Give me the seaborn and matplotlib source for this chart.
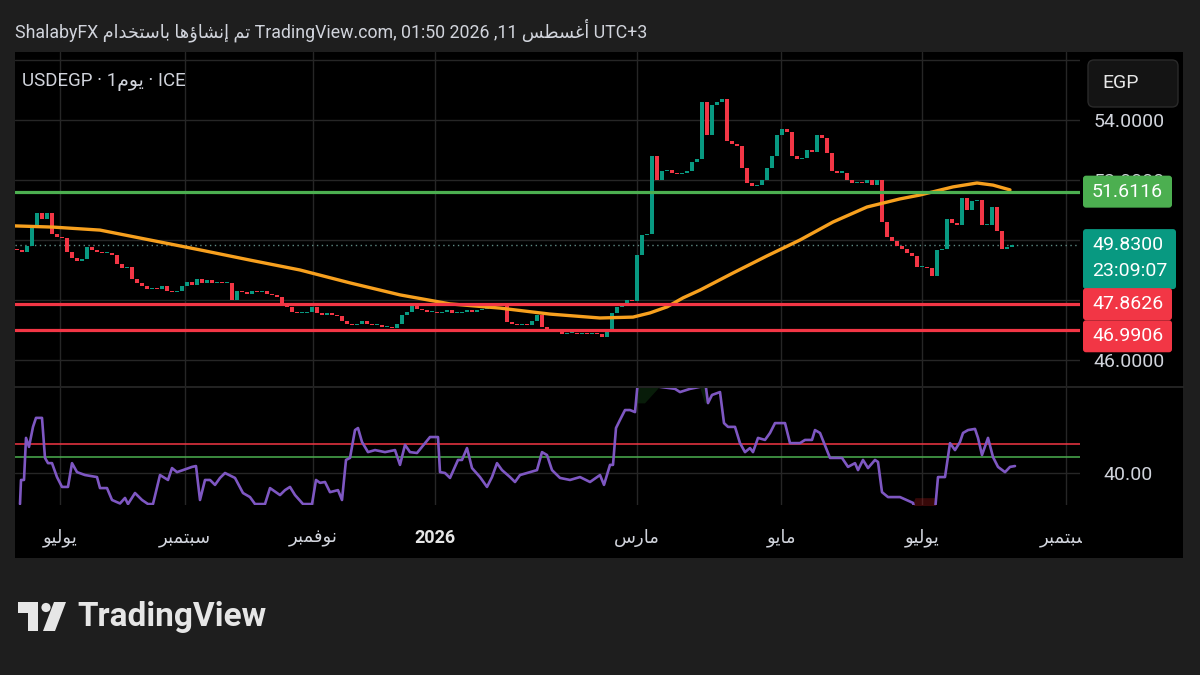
# USDEGP daily chart (TradingView style) - candles, 200 MA, RSI pane
import matplotlib
matplotlib.use('Agg')
import matplotlib.pyplot as plt
from matplotlib.patches import FancyBboxPatch, Rectangle, Polygon, Circle
from matplotlib.lines import Line2D
from matplotlib.transforms import IdentityTransform
import seaborn as sns
import numpy as np

# ---- data ----
open0 = 49.7
closes = [49.67, 49.6, 49.8, 50.5, 50.9, 50.7, 50.9, 50.2, 50.1, 50.05,
          49.6, 49.4, 49.3, 49.35, 49.75, 49.65, 49.6, 49.55, 49.55, 49.5,
          49.2, 49.07, 49.1, 48.7, 48.55, 48.45, 48.35, 48.4, 48.38, 48.45,
          48.3, 48.25, 48.3, 48.45, 48.6, 48.5, 48.7, 48.55, 48.65, 48.55,
          48.6, 48.55, 48.55, 48.0, 48.3, 48.25, 48.2, 48.3, 48.25, 48.3,
          48.2, 48.15, 48.1, 47.85, 47.75, 47.6, 47.55, 47.55, 47.6, 47.75,
          47.55, 47.5, 47.55, 47.5, 47.45, 47.3, 47.2, 47.15, 47.2, 47.3,
          47.2, 47.15, 47.15, 47.1, 47.1, 47.05, 47.2, 47.5, 47.6, 47.85,
          47.7, 47.65, 47.6, 47.6, 47.55, 47.6, 47.65, 47.55, 47.55, 47.6,
          47.65, 47.6, 47.65, 47.7, 47.8, 47.8, 47.82, 47.8, 47.25, 47.2,
          47.15, 47.2, 47.15, 47.3, 47.5, 47.1, 47.0, 46.95, 47.0, 46.85,
          46.9, 46.9, 46.85, 46.9, 46.85, 46.9, 46.85, 46.75, 47.0, 47.55,
          47.75, 47.85, 48.0, 47.95, 49.5, 50.15, 50.2, 52.8, 52.0, 52.3,
          52.35, 52.25, 52.2, 52.25, 52.3, 52.6, 52.7, 54.6, 53.5, 54.5,
          54.6, 54.7, 53.3, 53.2, 53.15, 52.4, 51.9, 51.8, 51.85, 52.0,
          52.4, 52.8, 53.5, 53.7, 53.6, 52.8, 52.7, 52.75, 53.0, 52.95,
          53.5, 53.4, 52.9, 52.3, 52.25, 52.25, 52.0, 51.9, 51.95, 51.9,
          52.0, 51.85, 52.0, 50.6, 50.1, 49.95, 49.8, 49.7, 49.55, 49.45,
          49.1, 49.1, 49.05, 48.8, 49.65, 49.7, 50.7, 50.55, 50.5, 51.4,
          51.0, 51.3, 51.35, 50.5, 50.5, 51.1, 50.3, 49.7, 49.75, 49.83]

ma_bar = [-0.4, 7.2, 16.6, 26.6, 36.6, 46.6, 56.6, 66.6, 76.6, 86.6, 96.6,
          106.6, 116.6, 123.2, 126.6, 130.0, 133.2, 136.6, 143.2, 150.0,
          156.6, 163.2, 170.0, 176.6, 180.6, 187.2, 192.0, 195.2, 198.6]
ma_val = [50.47, 50.43, 50.33, 50.0, 49.67, 49.33, 49.0, 48.57, 48.17, 47.87,
          47.73, 47.53, 47.4, 47.43, 47.57, 47.77, 48.07, 48.33, 48.9, 49.47,
          50.0, 50.6, 51.1, 51.37, 51.5, 51.77, 51.9, 51.83, 51.67]

rsi_bar = [0.6, 0.8, 1.4, 1.8, 2.4, 3.2, 3.8, 5.0, 5.6, 6.2, 7.0, 8.0, 9.0,
           10.2, 11.0, 12.0, 13.6, 16.0, 16.6, 18.0, 19.0, 20.6, 21.6, 22.2,
           23.6, 25.0, 26.2, 27.2, 28.6, 30.2, 31.0, 32.0, 33.2, 35.0, 35.8,
           36.6, 37.6, 38.6, 39.6, 40.6, 41.6, 43.6, 45.2, 46.6, 47.6, 49.6,
           50.6, 52.6, 53.6, 54.6, 55.6, 57.2, 59.0, 59.8, 60.6, 61.6, 62.6,
           64.2, 65.0, 65.8, 66.6, 67.6, 68.2, 69.0, 70.2, 71.6, 73.6, 75.6,
           76.6, 77.6, 78.6, 80.0, 81.6, 82.6, 84.2, 84.6, 85.6, 86.6, 88.2,
           89.0, 90.0, 91.0, 92.6, 94.0, 95.0, 96.0, 97.0, 98.6, 99.6, 100.6,
           102.6, 104.0, 105.0, 106.0, 107.0, 108.6, 110.6, 112.6, 114.6,
           116.6, 117.4, 118.6, 119.2, 119.8, 120.6, 121.6, 122.6, 123.6,
           124.2, 125.6, 128.6, 131.6, 132.6, 134.6, 136.6, 137.6, 138.2,
           139.0, 140.6, 141.4, 142.2, 143.6, 144.6, 145.6, 146.6, 147.2,
           148.2, 149.6, 150.6, 151.6, 153.6, 154.6, 156.6, 157.6, 159.0,
           159.6, 160.6, 162.6, 165.0, 166.2, 167.6, 168.2, 169.2, 170.2,
           171.6, 172.2, 173.0, 174.2, 176.6, 179.2, 179.6, 183.6, 184.2,
           185.6, 186.6, 187.6, 188.6, 189.2, 190.2, 191.6, 192.2, 193.0,
           194.2, 195.2, 196.2, 197.6, 198.6, 199.6]
rsi_val = [29.3, 37.6, 37.6, 52.1, 49.0, 55.9, 59.0, 59.0, 45.2, 43.4, 43.4,
           38.6, 35.2, 35.2, 43.4, 40.3, 39.3, 38.6, 34.8, 34.8, 30.7, 29.5,
           31.4, 29.3, 33.1, 30.7, 29.3, 29.3, 39.3, 37.6, 41.7, 40.3, 41.0,
           42.1, 42.4, 30.7, 37.6, 37.6, 35.9, 38.3, 40.0, 38.3, 33.1, 31.7,
           29.3, 29.3, 34.8, 32.4, 34.1, 35.2, 32.4, 29.3, 29.3, 37.6, 36.6,
           36.9, 33.4, 34.1, 30.7, 44.5, 45.2, 54.8, 55.5, 50.7, 47.2, 47.9,
           47.2, 47.9, 42.8, 49.7, 47.2, 46.9, 50.3, 52.4, 52.4, 40.3, 40.0,
           38.3, 44.5, 44.5, 48.6, 41.7, 38.6, 35.2, 38.6, 43.4, 41.0, 38.6,
           36.9, 39.3, 40.3, 41.0, 47.2, 46.2, 41.0, 38.3, 37.6, 38.6, 36.9,
           39.3, 35.9, 42.8, 42.8, 55.5, 58.3, 61.7, 61.7, 61.0, 72.0, 70.5,
           69.7, 69.0, 67.9, 69.0, 69.7, 72.0, 64.1, 66.9, 67.9, 57.2, 55.9,
           55.9, 50.3, 47.2, 48.6, 47.2, 52.1, 51.4, 53.8, 57.2, 57.2, 50.3,
           50.3, 51.4, 51.4, 54.8, 53.8, 45.2, 45.2, 42.1, 43.4, 41.0, 44.5,
           41.7, 44.5, 43.8, 33.4, 31.7, 31.7, 29.7, 27.0, 27.0, 38.6, 38.6,
           50.3, 47.9, 50.7, 53.8, 54.8, 55.2, 52.1, 46.2, 52.1, 45.5, 42.1,
           40.3, 42.1, 42.4]

resistance = 51.6116
supports = [47.8626, 46.9906]
countdown = '23:09:07'
rsi_upper, rsi_mid = 50.0, 45.5

grid_ticks = [46, 48, 50, 52, 54, 56]
label_ticks = [46, 52, 54]          # the others sit under the price tags / currency button
month_pos = [8.6, 33.6, 59.2, 83.6, 124.0, 152.8, 181.0, 209.8]
month_lbl = ['يوليو', 'سبتمبر', 'نوفمبر', '2026', 'مارس', 'مايو', 'يوليو', 'سبتمبر']

# ---- tiny Arabic shaper (matplotlib has no complex text layout) ----
AR_FORMS = {'ا': (0xFE8D, 2), 'أ': (0xFE83, 2), 'إ': (0xFE87, 2), 'ؤ': (0xFE85, 2),
            'ب': (0xFE8F, 4), 'ت': (0xFE95, 4), 'خ': (0xFEA5, 4), 'د': (0xFEA9, 2),
            'ر': (0xFEAD, 2), 'س': (0xFEB1, 4), 'ش': (0xFEB5, 4), 'ط': (0xFEC1, 4),
            'غ': (0xFECD, 4), 'ف': (0xFED1, 4), 'ل': (0xFEDD, 4), 'م': (0xFEE1, 4),
            'ن': (0xFEE5, 4), 'ه': (0xFEE9, 4), 'و': (0xFEED, 2), 'ي': (0xFEF1, 4)}


def ar(txt):
    if not any(ch in AR_FORMS for ch in txt):
        return txt
    out = []
    for k, ch in enumerate(txt):
        if ch not in AR_FORMS:
            out.append(ch)
            continue
        base, n = AR_FORMS[ch]
        prev = txt[k - 1] if k > 0 else ''
        nxt = txt[k + 1] if k + 1 < len(txt) else ''
        jp = prev in AR_FORMS and AR_FORMS[prev][1] == 4
        jn = n == 4 and nxt in AR_FORMS
        f = 3 if (jp and jn) else 1 if jp else 2 if jn else 0
        out.append(chr(base + f))
    return ''.join(out[::-1])


sns.set_theme(style='dark', rc={'axes.facecolor': 'black', 'figure.facecolor': '#1e1e1e'})
plt.rcParams['font.family'] = ['Roboto', 'DejaVu Sans']

W, H = 1200, 675
fx = lambda px: px / W
fy = lambda py: 1 - py / H
TXT = '#d1d4dc'
GRID = '#262626'

fig = plt.figure(figsize=(12, 6.75), dpi=100)
fig.add_artist(Rectangle((fx(15), fy(558)), fx(1183) - fx(15), fy(52) - fy(558),
                         transform=fig.transFigure, fc='black', ec='none', zorder=-1))

ax = fig.add_axes([fx(15), fy(386), fx(1080) - fx(15), fy(52) - fy(386)])
axr = fig.add_axes([fx(15), fy(505), fx(1080) - fx(15), fy(388) - fy(505)])

# ---- price pane ----
x = np.arange(len(closes))
c = np.array(closes)
o = np.r_[open0, c[:-1]]
up = c >= o
body = np.maximum(np.abs(c - o), 0.035)
ax.bar(x, body, bottom=np.minimum(o, c), width=0.62,
       color=np.where(up, '#089981', '#f23645'), linewidth=0, zorder=3)
sns.lineplot(x=ma_bar, y=ma_val, ax=ax, color='#f7a01e', lw=2.4, zorder=4, legend=False)

ax.axhline(resistance, color='#4caf50', lw=2.3, zorder=5)
for s in supports:
    ax.axhline(s, color='#f23645', lw=2.3, zorder=5)
ax.axhline(closes[-1], color='#5f8a84', lw=1, ls=(0, (1, 2.5)), zorder=2)

ax.set_xlim(-0.4, 212.6)
ax.set_ylim(45.133, 56.267)
ax.set_yticks(grid_ticks)
ax.set_yticklabels([f'{t:.4f}' if t in label_ticks else '' for t in grid_ticks])
ax.yaxis.tick_right()
ax.set_xticks(month_pos)
ax.tick_params(axis='y', length=0, pad=10, labelcolor=TXT, labelsize=14)
ax.tick_params(axis='x', length=0, labelbottom=False)
ax.grid(True, color=GRID, lw=1)
for sp in ax.spines.values():
    sp.set_visible(False)

# ---- RSI pane ----
rb, rv = np.array(rsi_bar), np.array(rsi_val)
sns.lineplot(x=rb, y=rv, ax=axr, color='#7e57c2', lw=1.9, zorder=4, legend=False)
axr.fill_between(rb, rv, 64, where=rv > 70.2, color='#1b5e20', alpha=0.3, lw=0, interpolate=True)
axr.fill_between(rb, rv, 31.5, where=rv < 28, color='#b71c1c', alpha=0.3, lw=0, interpolate=True)
axr.axhline(rsi_upper, color='#f23645', lw=1.1, zorder=3)
axr.axhline(rsi_mid, color='#4caf50', lw=1.1, zorder=3)
axr.set_xlim(-0.4, 212.6)
axr.set_ylim(28.97, 69.3)
axr.set_yticks([40])
axr.set_yticklabels(['40.00'])
axr.yaxis.tick_right()
axr.set_xticks(month_pos)
axr.set_xticklabels([ar(m) for m in month_lbl])
axr.tick_params(axis='y', length=0, pad=17, labelcolor=TXT, labelsize=14)
axr.tick_params(axis='x', length=0, pad=17, labelcolor=TXT, labelsize=13)
for lbl, m in zip(axr.get_xticklabels(), month_lbl):
    if m == '2026':
        lbl.set_fontweight('bold')
        lbl.set_color('#e6e6e6')
axr.grid(True, color=GRID, lw=1)
for sp in axr.spines.values():
    sp.set_visible(False)

fig.add_artist(Line2D([fx(15), fx(1183)], [fy(387), fy(387)], transform=fig.transFigure,
                      color='#2a2a2a', lw=1.2, zorder=1))
# price scale clips the date label at its edge
fig.add_artist(Rectangle((1082, H - 557), 101, 42, transform=IdentityTransform(),
                         fc='black', ec='none', zorder=2))


# ---- price scale tags ----
def price_tag(val, label, color, sub=None, dy=0):
    py = H - ax.transData.transform((0, val))[1] + dy
    h, w = (60, 93) if sub else (32, 89)
    top = py - 16
    fig.add_artist(FancyBboxPatch((1083, H - top - h), w, h, transform=IdentityTransform(),
                                  boxstyle='round,pad=0,rounding_size=3', fc=color, ec='none', zorder=3))
    fig.text(fx(1092), fy(py), label, color='white', fontsize=14, va='center', zorder=4)
    if sub:
        fig.text(fx(1092), fy(py + 26), sub, color='white', fontsize=14, va='center', zorder=4)


price_tag(resistance, f'{resistance:.4f}', '#4caf50')
price_tag(closes[-1], f'{closes[-1]:.4f}', '#089981', sub=countdown)
price_tag(supports[0], f'{supports[0]:.4f}', '#f23645')
price_tag(supports[1], f'{supports[1]:.4f}', '#f23645', dy=6)

# currency button
fig.add_artist(FancyBboxPatch((1088, H - 107), 90, 47, transform=IdentityTransform(),
                              boxstyle='round,pad=0,rounding_size=6', fc='#141414', ec='#2a2a2a',
                              lw=1, zorder=3))
fig.text(fx(1102), fy(83), 'EGP', color='#e6e6e6', fontsize=14, va='center', zorder=4)

# ---- header / legend ----
header = 'ShalabyFX ' + ar('تم إنشاؤها باستخدام') + ' TradingView.com, 01:50 2026 ,11 ' + ar('أغسطس') + ' UTC+3'
fig.text(fx(15), fy(30), header, color=TXT, fontsize=12.8, va='center')
fig.text(fx(22), fy(82), 'USDEGP · 1' + ar('يوم') + ' · ICE', color=TXT, fontsize=13.5, va='center')

# ---- TradingView logo ----
logo = '#e6e6e6'
fig.add_artist(Polygon([(18, H - 602), (38, H - 602), (38, H - 631), (28, H - 631),
                        (28, H - 613), (18, H - 613)], closed=True, transform=IdentityTransform(),
                       fc=logo, ec='none'))
fig.add_artist(Circle((46, H - 607.5), 4.6, transform=IdentityTransform(), fc=logo, ec='none'))
fig.add_artist(Polygon([(54, H - 602), (66, H - 602), (55, H - 631), (43, H - 631)], closed=True,
                       transform=IdentityTransform(), fc=logo, ec='none'))
fig.text(fx(77), fy(617), 'TradingView', color=logo, fontsize=24, fontweight='bold', va='center')

fig.savefig('out.png', dpi=100, facecolor=fig.get_facecolor())
